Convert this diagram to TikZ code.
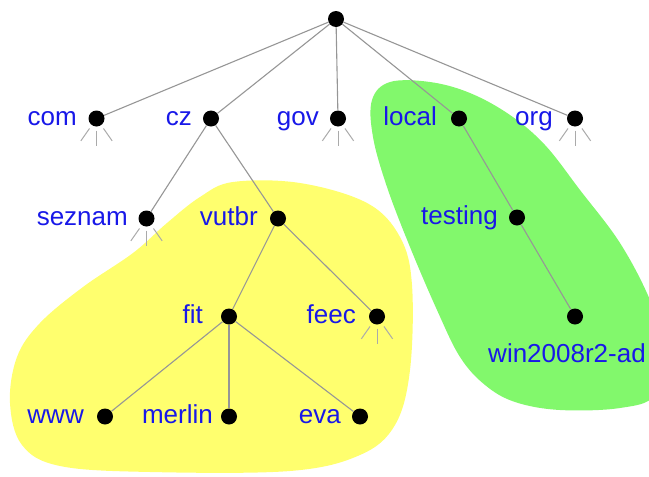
\documentclass[tikz,border=0pt]{standalone}
\usepackage{fontspec}
\setmainfont{Liberation Sans}
\usetikzlibrary{calc}
\definecolor{lblblue}{RGB}{24,24,232}
\definecolor{zoneyellow}{RGB}{255,255,110}
\definecolor{zonegreen}{RGB}{130,248,108}
\definecolor{edgegray}{RGB}{150,150,150}
\definecolor{stubgray}{RGB}{170,170,170}
\tikzset{
  dot/.style={circle,fill=black,minimum size=16pt,inner sep=0pt},
  lbl/.style={text=lblblue,font=\fontsize{26}{30}\selectfont,inner sep=0pt,anchor=base east},
  edge/.style={draw=edgegray,line width=1.1pt},
  stub/.style={draw=stubgray,line width=1pt},
}
\newcommand{\stubs}[1]{%
  \foreach \a in {-125,-90,-55}{\draw[stub] (#1.\a) ++(\a:4pt) -- ++(\a:15pt);}}
\begin{document}
\begin{tikzpicture}[x=1pt,y=-1pt]
\useasboundingbox (0,0) rectangle (649,477);
\begin{scope}
\clip (0,0) rectangle (649,477);
% zones
\fill[zoneyellow] plot[smooth cycle,tension=0.6] coordinates {
  (233,182) (300,183) (367,203) (400,237) (412,285) (410,370) (395,425)
  (360,455) (290,471) (150,472) (60,466) (22,445) (10,403) (17,357)
  (40,323) (83,287) (133,253) (167,223) (200,197)};
\fill[zonegreen] plot[smooth cycle,tension=0.6] coordinates {
  (390,82) (430,82) (470,93) (510,115) (545,145) (580,190) (620,243)
  (650,300) (665,350) (655,395) (620,408) (560,410) (515,402) (485,385)
  (460,357) (437,310) (410,247) (387,187) (373,137) (372,100)};
\end{scope}
% nodes
\node[dot] (root) at (336,19) {};
\node[dot] (com) at (96.5,118.5) {};
\node[dot] (cz) at (211,118.5) {};
\node[dot] (gov) at (338,118.5) {};
\node[dot] (local) at (459,118.5) {};
\node[dot] (org) at (575,118.5) {};
\node[dot] (seznam) at (146.5,218.5) {};
\node[dot] (vutbr) at (278,218.5) {};
\node[dot] (testing) at (517,217.5) {};
\node[dot] (fit) at (229,316.5) {};
\node[dot] (feec) at (377,316.5) {};
\node[dot] (win) at (575,316.5) {};
\node[dot] (www) at (105,416.5) {};
\node[dot] (merlin) at (229,416.5) {};
\node[dot] (eva) at (360,416.5) {};
% edges
\begin{scope}[on background layer/.style={}]
\foreach \a/\b in {root/com,root/cz,root/gov,root/local,root/org,
  cz/seznam,cz/vutbr,vutbr/fit,vutbr/feec,fit/www,fit/merlin,fit/eva,
  local/testing,testing/win}
  \draw[edge] (\a) -- (\b);
\end{scope}
% unexpanded subtrees
\stubs{com}
\stubs{gov}
\stubs{org}
\stubs{seznam}
\stubs{feec}
% labels
\node[lbl] (tcom) at (77,125.5) {com};
\node[lbl] (tcz) at (192,125.5) {cz};
\node[lbl] (tgov) at (319,125.5) {gov};
\node[lbl] (tlocal) at (437,125.5) {local};
\node[lbl] (torg) at (553,125.5) {org};
\node[lbl] (tseznam) at (128,225.5) {seznam};
\node[lbl] (tvutbr) at (258,225.5) {vutbr};
\node[lbl] (ttesting) at (498,224.5) {testing};
\node[lbl] (tfit) at (203,323.5) {fit};
\node[lbl] (tfeec) at (356,323.5) {feec};
\node[lbl,anchor=base] (twin) at (567,362) {win2008r2-ad};
\node[lbl] (twww) at (84,423.5) {www};
\node[lbl] (tmerlin) at (213,423.5) {merlin};
\node[lbl] (teva) at (341,423.5) {eva};
\end{tikzpicture}
\end{document}
